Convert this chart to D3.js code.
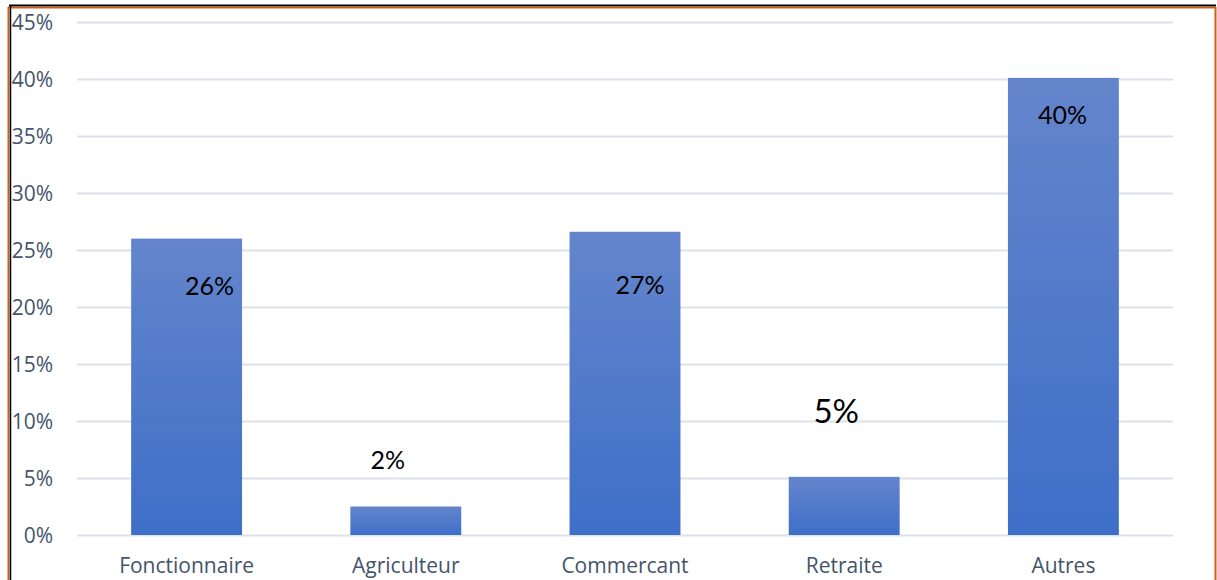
<!DOCTYPE html>
<html><head><meta charset="utf-8">
<script src="https://cdn.jsdelivr.net/npm/d3@7"></script>
<style>html,body{margin:0;padding:0;background:#fff;overflow:hidden}</style>
</head><body>
<svg id="c" width="1217" height="580"></svg>
<script>
const categories = ["Fonctionnaire", "Agriculteur", "Commercant", "Retraite", "Autres"];
const values = [0.26, 0.025, 0.266, 0.051, 0.401];
const labels = ["26%", "2%", "27%", "5%", "40%"];
const yTicks = [0, 0.05, 0.10, 0.15, 0.20, 0.25, 0.30, 0.35, 0.40, 0.45];
// hand-placed label offsets (px) relative to bar center / bar top, and font sizes
const labelDx = [23, -18, 15, -8, -1];
const labelDy = [56, -38, 62, -54, 46];
const labelSize = [25, 25, 25, 33, 25];

const svg = d3.select("#c");
const m = {left: 77, right: 1173, top: 22, bottom: 535};

const x = d3.scaleBand().domain(categories).range([m.left, m.right]).paddingInner(0.494).paddingOuter(0.247);
const y = d3.scaleLinear().domain([0, 0.45]).range([m.bottom, m.top]);

const defs = svg.append("defs");
const g = defs.append("linearGradient").attr("id", "bg").attr("x1", 0).attr("y1", 0).attr("x2", 0).attr("y2", 1);
g.append("stop").attr("offset", "0%").attr("stop-color", "#6485cc");
g.append("stop").attr("offset", "100%").attr("stop-color", "#3e6fc8");

// frame
svg.append("line").attr("x1", 9).attr("x2", 1216).attr("y1", 5.5).attr("y2", 5.5).attr("stroke", "#000").attr("stroke-width", 2);
svg.append("line").attr("x1", 8).attr("x2", 1216).attr("y1", 7.5).attr("y2", 7.5).attr("stroke", "#c8611b").attr("stroke-width", 2);
svg.append("line").attr("x1", 8.5).attr("x2", 8.5).attr("y1", 7).attr("y2", 580).attr("stroke", "#c8611b").attr("stroke-width", 2);
svg.append("line").attr("x1", 10.5).attr("x2", 10.5).attr("y1", 5).attr("y2", 580).attr("stroke", "#000").attr("stroke-width", 1.5);
svg.append("line").attr("x1", 1215.5).attr("x2", 1215.5).attr("y1", 7).attr("y2", 580).attr("stroke", "#c8611b").attr("stroke-width", 2);

// gridlines
svg.append("g").selectAll("line").data(yTicks).join("line")
  .attr("x1", m.left).attr("x2", m.right)
  .attr("y1", d => Math.round(y(d)) + 0.5).attr("y2", d => Math.round(y(d)) + 0.5)
  .attr("stroke", "#dde2ea").attr("stroke-width", 2);

// y axis labels
const yAxis = d3.axisLeft(y).tickValues(yTicks).tickFormat(d3.format(".0%")).tickSize(0).tickPadding(0);
const ya = svg.append("g").attr("transform", "translate(53,0)").call(yAxis);
ya.select(".domain").remove();
ya.selectAll("text").attr("font-family", "Open Sans").attr("font-size", 21).attr("fill", "#44546a").attr("dy", "0.35em");

// bars
svg.append("g").selectAll("rect").data(values).join("rect")
  .attr("x", (d, i) => x(categories[i])).attr("width", x.bandwidth())
  .attr("y", d => y(d)).attr("height", d => y(0) - y(d))
  .attr("fill", "url(#bg)");

// x axis labels
const xAxis = d3.axisBottom(x).tickSize(0).tickPadding(0);
const xa = svg.append("g").attr("transform", `translate(0,${m.bottom})`).call(xAxis);
xa.select(".domain").remove();
xa.selectAll("text").attr("font-family", "Open Sans").attr("font-size", 21).attr("fill", "#44546a").attr("dy", null).attr("y", 38);

// data labels
svg.append("g").selectAll("text").data(values).join("text")
  .attr("x", (d, i) => x(categories[i]) + x.bandwidth() / 2 + labelDx[i])
  .attr("y", (d, i) => y(d) + labelDy[i])
  .attr("text-anchor", "middle")
  .attr("font-family", "Lato").attr("font-size", (d, i) => labelSize[i]).attr("fill", "#000")
  .text((d, i) => labels[i]);
</script>
</body></html>
